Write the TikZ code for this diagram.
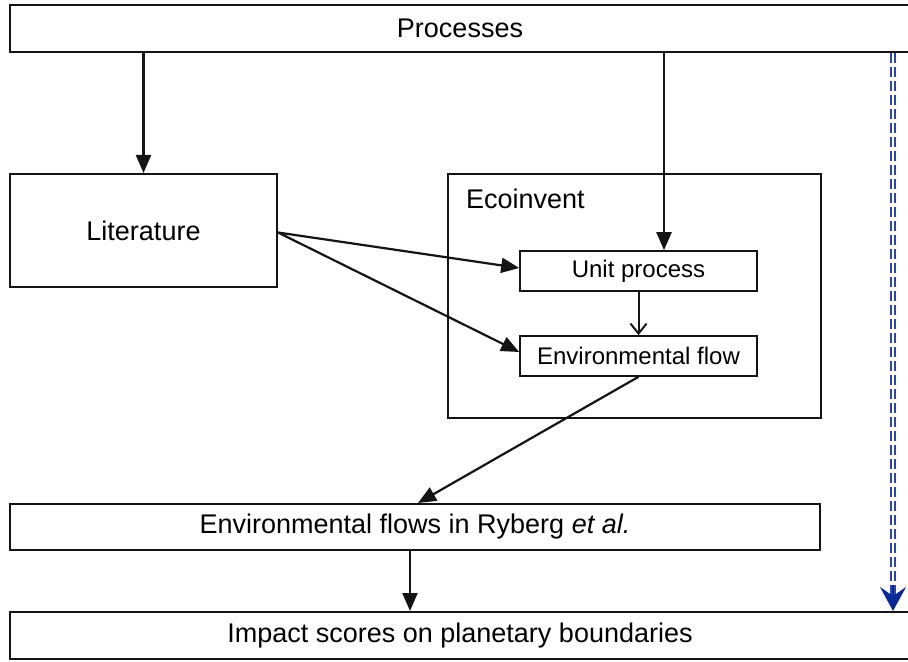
\documentclass[tikz,border=0pt]{standalone}
\usepackage{fontspec}
\setmainfont{Liberation Sans}
\usetikzlibrary{arrows.meta, positioning, calc}
\definecolor{myblue}{RGB}{40,70,170}
\definecolor{mynavy}{RGB}{10,40,150}
\definecolor{mydark}{RGB}{20,20,20}
\tikzset{
  box/.style={rectangle, draw=mydark, line width=1pt, inner sep=0pt,
    font=\fontsize{13.5}{16}\selectfont},
  smallbox/.style={box, line width=0.8pt, font=\fontsize{12}{14}\selectfont},
  arrow/.style={-{Triangle[length=9pt,width=7.5pt]}, line width=1.1pt, color=mydark},
  thinarrow/.style={-{Straight Barb[length=5pt,width=8pt]}, line width=1pt, color=mydark},
  dblline/.style={draw=myblue, double=white, double distance=1.1pt, line width=0.9pt,
    dash pattern=on 5pt off 2pt},
  bluetip/.style={-{Stealth[length=12pt,width=13pt,inset=4.5pt]}, color=mynavy, line width=0.7pt}
}

\begin{document}
\begin{tikzpicture}[x=0.5pt, y=-0.5pt]
  \useasboundingbox (0,0) rectangle (908,662);

  % Boxes
  \node[box, minimum width=450pt, minimum height=23.5pt] (proc) at (460,28.5) {Processes};
  \node[box, minimum width=133.5pt, minimum height=56.5pt] (lit) at (143.5,230.5) {Literature};
  \node[box, minimum width=186.5pt, minimum height=122pt] (eco) at (634.5,296) {};
  \node[anchor=base west, font=\fontsize{13.5}{16}\selectfont] (ecolabel)
    at ($(eco.north west)+(12,36)$) {Ecoinvent};
  \node[smallbox, minimum width=118.5pt, minimum height=20pt] (unit) at (638.5,271) {Unit process};
  \node[smallbox, minimum width=118.5pt, minimum height=20pt] (env) at (638.5,356) {Environmental flow};
  \node[box, minimum width=405pt, minimum height=23pt] (ryb) at (415,527)
    {Environmental flows in Ryberg \textit{et al.}};
  \node[box, minimum width=450pt, minimum height=23.5pt] (imp) at (460,635.5)
    {Impact scores on planetary boundaries};

  % Helper columns
  \coordinate (pu) at (664,0);
  \coordinate (pb) at (893,0);

  % Arrows
  \draw[arrow] (lit.north |- proc.south) -- (lit.north);
  \draw[arrow] (proc.south -| pu) -- (unit.north -| pu);
  \draw[arrow] ($(lit.east)+(0,2)$) -- ($(unit.west)+(0,-3)$);
  \draw[arrow] ($(lit.east)+(0,2)$) -- ($(env.west)+(0,-4)$);
  \draw[thinarrow] (unit.south) -- (env.south |- env.north);
  \draw[arrow] (env.south) -- ($(ryb.north)+(3,0)$);
  \draw[arrow] ($(ryb.south)+(-5,0)$) -- ($(ryb.south |- imp.north)+(-5,0)$);

  % Direct link
  \draw[dblline] (proc.south -| pb) -- ($(imp.north -| pb)+(0,-12)$);
  \draw[bluetip] ($(imp.north -| pb)+(0,-26)$) -- (imp.north -| pb);
\end{tikzpicture}
\end{document}
